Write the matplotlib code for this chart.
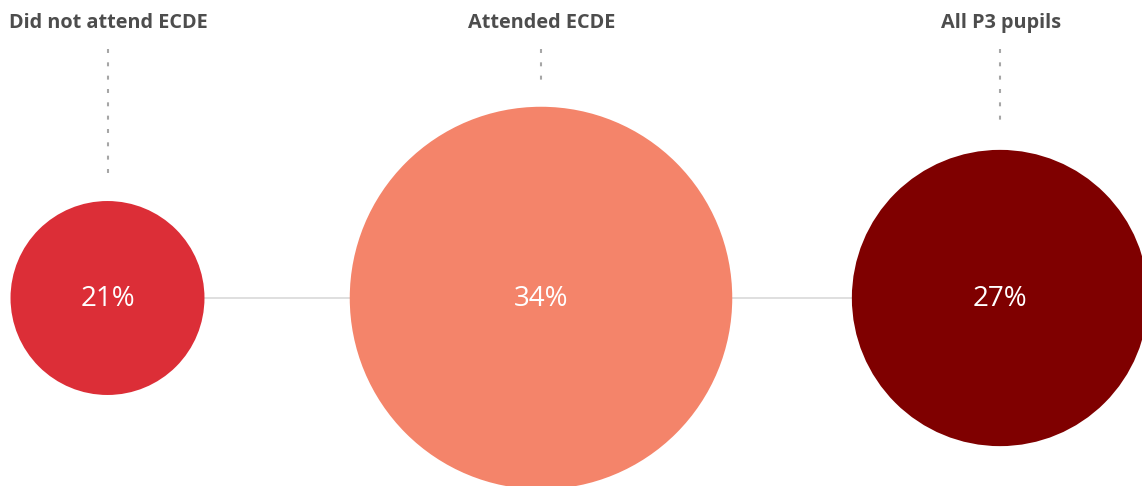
import numpy as np
import matplotlib.pyplot as plt
from matplotlib.patches import Circle

# ============================================================
# DATA
# ============================================================
categories = ['Did not attend ECDE', 'Attended ECDE', 'All P3 pupils']
values = [21, 34, 27]          # percent
colors = ['#DC2E37', '#F4846A', '#7F0000']

# ============================================================
# LAYOUT (pixel units, figure is 1142 x 486)
# ============================================================
W, H = 1142, 486
x_slots = [107.5, 541, 1000]   # bubble centres
y_axis = 298                   # horizontal baseline
label_y = 23
leader_top = 49
leader_gap = 26

# bubble area grows linearly with the value above a floor
AREA_PER_UNIT = 2090.0
VALUE_FLOOR = 16.5


def radius(v):
    return np.sqrt(AREA_PER_UNIT * (v - VALUE_FLOOR))


plt.rcParams['font.family'] = ['Open Sans', 'DejaVu Sans']

fig = plt.figure(figsize=(W / 100, H / 100), dpi=100)
ax = fig.add_axes([0, 0, 1, 1])
ax.set_xlim(0, W)
ax.set_ylim(H, 0)
ax.set_aspect('equal')
ax.axis('off')

# baseline joining the bubbles
ax.plot([x_slots[0], W], [y_axis, y_axis], color='#D9D9D9', lw=1.2, zorder=1)

for x, v, c, name in zip(x_slots, values, colors, categories):
    r = radius(v)
    ax.add_patch(Circle((x, y_axis), r, facecolor=c, edgecolor='none', zorder=2))
    ax.text(x, y_axis + 1, f'{v}%', color='white', fontsize=20,
            ha='center', va='center', zorder=3)
    # dotted leader from label to bubble
    ax.plot([x, x], [leader_top, y_axis - r - leader_gap], color='#A6A6A6',
            lw=1.5, dashes=(1.9, 4.5), zorder=1)
    ax.text(x + 1, label_y, name, color='#4D4D4D', fontsize=14.3, fontweight='bold',
            ha='center', va='center')

fig.savefig('out.png', dpi=100)
